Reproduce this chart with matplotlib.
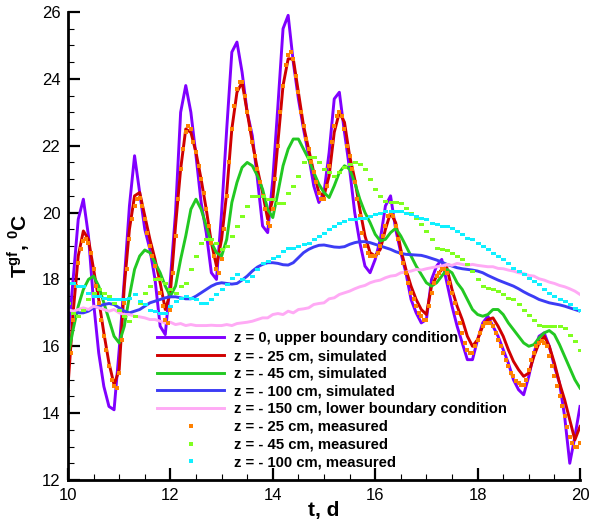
import numpy as np
import matplotlib
matplotlib.use('Agg')
import matplotlib.pyplot as plt
from matplotlib.ticker import MultipleLocator

plt.rcParams['font.family'] = ['Liberation Sans', 'DejaVu Sans']
plt.rcParams['mathtext.fontset'] = 'custom'
plt.rcParams['mathtext.bf'] = 'Liberation Sans:bold'
plt.rcParams['mathtext.rm'] = 'Liberation Sans'

# time in days, simulated curves every 0.1 d
t = np.linspace(10, 20, 101)
# measured at -25 cm read every 0.05 d
t_fine = np.linspace(10, 20, 201)

# z = 0, upper boundary condition
T_z0 = [16.2, 18.0, 19.8, 20.4, 19.3, 17.3, 15.8, 14.8, 14.2, 14.1,
        15.9, 18.0, 20.2, 21.7, 20.6, 19.5, 18.9, 18.0, 16.6, 16.35,
        18.0, 20.0, 23.0, 23.8, 23.0, 21.7, 20.3, 19.4, 18.2, 18.0,
        20.0, 22.5, 24.8, 25.1, 24.2, 23.0, 22.3, 21.0, 19.6, 19.4,
        21.0, 23.2, 25.5, 25.9, 24.5, 23.4, 22.5, 21.7, 20.8, 20.3,
        20.6, 21.8, 23.4, 23.6, 22.4, 21.3, 20.0, 19.1, 18.4, 18.2,
        18.6, 19.2, 20.2, 20.5, 19.5, 18.8, 18.2, 17.4, 17.0, 16.7,
        16.8, 18.0, 18.4, 18.6, 17.9, 17.2, 16.6, 16.1, 15.6, 15.6,
        16.2, 16.7, 16.9, 16.6, 16.3, 15.9, 15.5, 15.0, 14.7, 14.55,
        15.1, 15.8, 16.3, 16.4, 16.0, 15.4, 14.9, 13.9, 12.5, 13.3,
        14.2]

# z = -25 cm, simulated
T_z25_sim = [14.8, 17.0, 18.7, 19.45, 19.2, 18.3, 17.4, 16.4, 15.5, 14.85,
             15.3, 17.8, 19.5, 20.5, 20.6, 19.9, 19.2, 18.6, 17.9, 17.1,
             17.6, 19.6, 21.3, 22.5, 22.4, 21.8, 21.0, 20.1, 19.1, 18.4,
             19.2, 20.6, 22.5, 23.6, 23.9, 23.0, 22.1, 21.3, 20.6, 19.8,
             20.4, 22.1, 23.8, 24.6, 24.6, 23.6, 22.6, 21.9, 21.2, 20.6,
             20.5, 21.1, 22.4, 23.0, 22.7, 21.7, 21.0, 20.1, 19.3, 18.8,
             18.7, 18.9, 19.5, 20.0, 19.7, 18.9, 18.3, 17.8, 17.4, 17.1,
             16.95, 17.8, 18.1, 18.3, 18.35, 17.7, 17.2, 16.8, 16.3, 16.0,
             16.2, 16.6, 16.8, 16.85, 16.6, 16.3, 15.9, 15.55, 15.3, 15.1,
             15.2, 15.7, 16.1, 16.3, 16.0, 15.5, 14.9, 14.4, 13.8, 13.2,
             13.6]

# z = -45 cm, simulated
T_z45_sim = [15.7, 16.5, 17.2, 17.7, 18.0, 18.1, 17.8, 17.3, 16.8, 16.3,
             16.1, 16.6, 17.5, 18.3, 18.7, 18.88, 18.8, 18.5, 18.2, 17.8,
             17.5, 17.8, 18.6, 19.3, 20.1, 20.4, 20.1, 19.6, 19.1, 18.8,
             18.7, 19.2, 20.3, 20.9, 21.35, 21.5, 21.4, 21.1, 20.7, 20.1,
             19.85, 20.6, 21.4, 21.9, 22.2, 22.2, 21.9, 21.6, 21.2, 20.85,
             20.6, 20.45, 20.8, 21.2, 21.4, 21.3, 20.9, 20.4, 20.0, 19.7,
             19.35, 19.15, 19.2, 19.4, 19.53, 19.3, 19.0, 18.7, 18.4, 18.15,
             17.9, 17.8, 17.9, 18.1, 18.3, 18.2, 17.9, 17.7, 17.4, 17.1,
             16.95, 16.9, 16.95, 17.1, 17.1, 16.95, 16.7, 16.5, 16.3, 16.1,
             16.0, 16.05, 16.25, 16.4, 16.47, 16.35, 16.05, 15.7, 15.35, 15.0,
             14.75]

# z = -100 cm, simulated
T_z100_sim = [17.1, 17.05, 17.0, 17.0, 17.05, 17.15, 17.2, 17.25, 17.28, 17.25,
              17.15, 17.05, 17.0, 17.05, 17.1, 17.2, 17.3, 17.35, 17.4, 17.45,
              17.48, 17.48, 17.45, 17.42, 17.42, 17.5, 17.6, 17.7, 17.8, 17.87,
              17.9, 17.88, 17.86, 17.88, 17.98, 18.1, 18.25, 18.37, 18.45, 18.5,
              18.5, 18.48, 18.44, 18.43, 18.5, 18.65, 18.8, 18.9, 18.97, 19.02,
              19.03, 19.0, 18.97, 18.96, 18.98, 19.05, 19.1, 19.13, 19.13, 19.1,
              19.05, 19.0, 18.95, 18.9, 18.83, 18.78, 18.75, 18.74, 18.73, 18.72,
              18.68, 18.63, 18.58, 18.52, 18.45, 18.4, 18.35, 18.32, 18.3, 18.28,
              18.25, 18.2, 18.12, 18.05, 17.98, 17.92, 17.86, 17.8, 17.72, 17.63,
              17.55, 17.48, 17.4, 17.35, 17.3, 17.27, 17.24, 17.2, 17.15, 17.1,
              17.05]

# z = -150 cm, lower boundary condition
T_z150 = [17.1, 17.05, 17.1, 17.15, 17.1, 17.2, 17.15, 17.1, 17.05, 17.1,
          17.0, 16.95, 16.95, 16.9, 16.88, 16.85, 16.8, 16.8, 16.75, 16.7,
          16.72, 16.65, 16.68, 16.62, 16.65, 16.62, 16.62, 16.62, 16.63, 16.62,
          16.62, 16.65, 16.62, 16.68, 16.7, 16.72, 16.75, 16.8, 16.85, 16.85,
          16.95, 16.98, 16.95, 17.05, 17.0, 17.1, 17.12, 17.15, 17.25, 17.28,
          17.3, 17.42, 17.45, 17.55, 17.6, 17.65, 17.72, 17.78, 17.82, 17.9,
          17.95, 17.98, 18.05, 18.1, 18.12, 18.2, 18.22, 18.25, 18.3, 18.28,
          18.32, 18.35, 18.38, 18.4, 18.45, 18.42, 18.48, 18.45, 18.42, 18.45,
          18.42, 18.4, 18.38, 18.38, 18.33, 18.32, 18.28, 18.25, 18.2, 18.18,
          18.12, 18.1, 18.02, 17.98, 17.92, 17.88, 17.82, 17.78, 17.72, 17.65,
          17.55]

# z = -25 cm, measured (0.05 d step)
T_z25_meas = [14.3, 15.8, 16.8, 17.8, 18.5, 18.9, 19.15, 19.2, 19.1, 18.8,
              18.3, 17.8, 17.3, 16.8, 16.3, 15.9, 15.4, 15.0, 14.8, 14.75,
              15.2, 16.2, 17.3, 18.3, 19.2, 19.8, 20.2, 20.4, 20.45, 20.2,
              19.8, 19.4, 19.0, 18.7, 18.4, 18.0, 17.6, 17.2, 16.8, 16.7,
              17.1, 18.2, 19.3, 20.4, 21.3, 21.9, 22.4, 22.6, 22.5, 22.1,
              21.8, 21.4, 21.0, 20.6, 20.1, 19.6, 19.1, 18.7, 18.3, 18.2,
              18.6, 19.5, 20.5, 21.5, 22.5, 23.2, 23.7, 23.9, 23.9, 23.5,
              23.0, 22.5, 22.1, 21.7, 21.3, 20.9, 20.5, 20.1, 19.7, 19.6,
              20.1, 21.0, 22.0, 23.0, 23.8, 24.4, 24.7, 24.8, 24.6, 24.1,
              23.6, 23.0, 22.6, 22.2, 21.9, 21.5, 21.2, 20.9, 20.6, 20.4,
              20.4, 20.8, 21.4, 22.1, 22.6, 22.9, 23.0, 22.9, 22.5, 22.0,
              21.7, 21.3, 20.9, 20.4, 19.9, 19.4, 19.0, 18.8, 18.7, 18.7,
              18.7, 18.8, 19.0, 19.3, 19.6, 19.9, 20.0, 19.9, 19.6, 19.2,
              18.8, 18.5, 18.2, 17.9, 17.6, 17.4, 17.2, 17.0, 16.9, 16.8,
              16.8, 17.2, 17.6, 17.9, 18.1, 18.2, 18.3, 18.3, 18.2, 17.9,
              17.6, 17.3, 17.0, 16.7, 16.4, 16.1, 15.9, 15.8, 15.8, 16.0,
              16.2, 16.4, 16.6, 16.7, 16.7, 16.7, 16.6, 16.4, 16.2, 16.0,
              15.8, 15.6, 15.4, 15.2, 15.1, 14.95, 14.9, 14.85, 14.85, 15.0,
              15.3, 15.6, 15.8, 16.0, 16.1, 16.15, 16.1, 16.0, 15.7, 15.4,
              15.1, 14.8, 14.5, 14.2, 13.9, 13.6, 13.3, 13.1, 13.0, 13.0,
              13.1]

# z = -45 cm, measured
T_z45_meas = [17.3, 17.0, 16.9, 17.1, 17.4, 17.6, 17.7, 17.6, 17.5, 17.3,
              17.1, 16.9, 16.75, 16.9, 17.3, 17.6, 17.8, 18.0, 18.0, 17.9,
              17.7, 17.6, 17.8, 17.9, 18.3, 18.7, 19.1, 19.2, 19.2, 19.1,
              18.9, 19.0, 19.3, 19.6, 19.9, 20.2, 20.5, 20.5, 20.5, 20.4,
              20.4, 20.3, 20.3, 20.6, 20.8, 21.1, 21.5, 21.65, 21.65, 21.5,
              21.3, 21.2, 21.1, 21.2, 21.35, 21.45, 21.5, 21.45, 21.3, 21.0,
              20.7, 20.5, 20.35, 20.33, 20.33, 20.3, 20.15, 20.0, 19.85, 19.65,
              19.45, 19.2, 18.95, 18.9, 18.88, 18.8, 18.7, 18.6, 18.45, 18.25,
              18.0, 17.8, 17.75, 17.7, 17.65, 17.55, 17.45, 17.4, 17.25, 17.1,
              16.95, 16.8, 16.65, 16.6, 16.6, 16.6, 16.6, 16.55, 16.35, 16.15,
              15.9]

# z = -100 cm, measured
T_z100_meas = [17.9, 17.9, 17.8, 17.8, 17.6, 17.5, 17.5, 17.45, 17.4, 17.4,
               17.4, 17.4, 17.45, 17.55, 17.35, 17.25, 17.1, 17.05, 17.0, 17.0,
               17.2, 17.35, 17.45, 17.5, 17.45, 17.4, 17.3, 17.3, 17.4, 17.55,
               17.7, 17.85, 18.05, 18.15, 18.0, 17.95, 18.1, 18.3, 18.5, 18.55,
               18.65, 18.7, 18.85, 18.95, 18.95, 19.0, 19.05, 19.1, 19.2, 19.3,
               19.4, 19.5, 19.6, 19.7, 19.75, 19.8, 19.8, 19.85, 19.85, 19.9,
               19.95, 20.0, 20.05, 20.05, 20.05, 20.05, 20.0, 19.95, 19.9, 19.85,
               19.8, 19.7, 19.65, 19.6, 19.6, 19.55, 19.45, 19.35, 19.25, 19.2,
               19.1, 19.0, 18.9, 18.8, 18.7, 18.6, 18.5, 18.35, 18.25, 18.15,
               18.05, 17.95, 17.85, 17.7, 17.6, 17.5, 17.4, 17.35, 17.25, 17.15,
               17.1]

# short wide box marker so the 0.1 d series read as the dashed runs of the original
dash = [(-1, -0.6), (1, -0.6), (1, 0.6), (-1, 0.6), (-1, -0.6)]

fig = plt.figure(figsize=(5.9, 5.23), dpi=100)
ax = fig.add_axes([68 / 590, 1 - 480 / 523, 512 / 590, 468 / 523])

lw = 2.1
ax.plot(t, T_z0, color='#8000ff', lw=lw, label='z = 0, upper boundary condition')
ax.plot(t, T_z25_sim, color='#d00000', lw=lw, label='z = - 25 cm, simulated')
ax.plot(t, T_z45_sim, color='#22c822', lw=lw, label='z = - 45 cm, simulated')
ax.plot(t, T_z100_sim, color='#3c3cf5', lw=lw, label='z = - 100 cm, simulated')
ax.plot(t, T_z150, color='#ffaaf5', lw=lw, label='z = - 150 cm, lower boundary condition')
ax.plot(t_fine, T_z25_meas, 's', color='#ff8000', ms=2.6, mew=0, label='z = - 25 cm, measured')
ax.plot(t, T_z45_meas, ls='none', marker=dash, color='#80ff20', ms=3.6, mew=0,
        label='z = - 45 cm, measured')
ax.plot(t, T_z100_meas, ls='none', marker=dash, color='#10f0ff', ms=3.6, mew=0,
        label='z = - 100 cm, measured')

ax.set_xlim(10, 20)
ax.set_ylim(12, 26)
ax.xaxis.set_major_locator(MultipleLocator(2))
ax.xaxis.set_minor_locator(MultipleLocator(0.5))
ax.yaxis.set_major_locator(MultipleLocator(2))
ax.yaxis.set_minor_locator(MultipleLocator(0.5))

for side in ['top', 'right']:
    ax.spines[side].set_visible(False)
for side in ['left', 'bottom']:
    ax.spines[side].set_linewidth(2)

ax.tick_params(which='major', direction='in', length=8.5, width=1.6, labelsize=12, pad=5.5)
ax.tick_params(which='minor', direction='in', length=4.3, width=0.8)

ax.set_xlabel('t, d', fontsize=15, fontweight='bold')
ax.set_ylabel(r'T$^{\bf gf}$, $^{\bf 0}$C', fontsize=15, fontweight='bold')
ax.xaxis.set_label_coords(0.5, -0.045)
ax.yaxis.set_label_coords(-0.07, 0.5)

leg = ax.legend(loc='upper left', bbox_to_anchor=(0.174, 0.3175), frameon=False,
                prop={'weight': 'bold', 'size': 10.7}, handlelength=4.5,
                handletextpad=0.7, labelspacing=0.25, borderaxespad=0, borderpad=0,
                numpoints=1)
# legend shows the measured series as single small squares
for h in leg.legend_handles[6:]:
    h.set_marker('s')
    h.set_markersize(2.6)

fig.savefig('out.png', dpi=100)
